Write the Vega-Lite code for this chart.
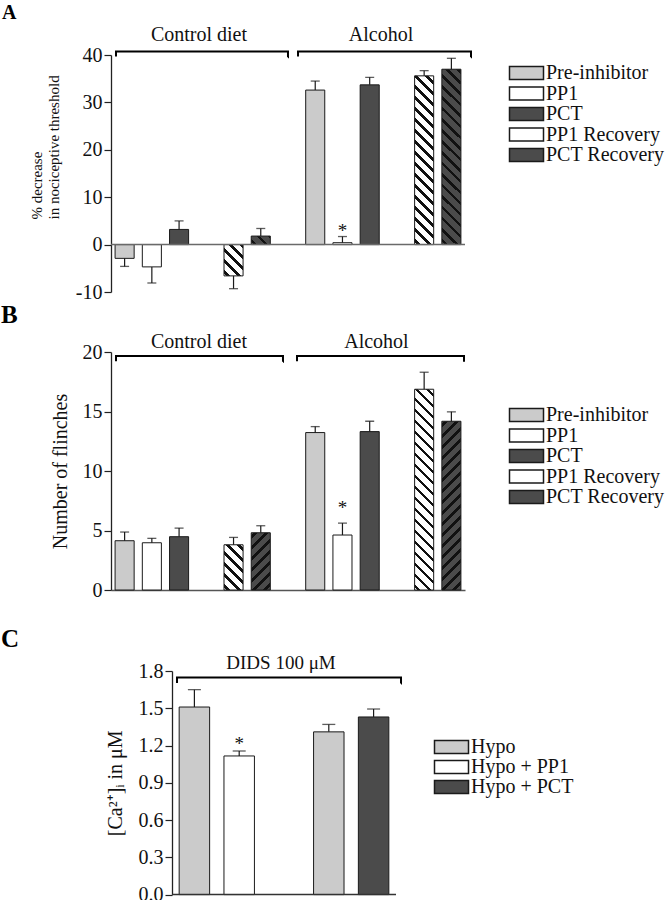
{
  "$schema": "https://vega.github.io/schema/vega-lite/v6.json",
  "padding": {"left": 1, "top": 2, "right": 0, "bottom": 0},
  "config": {
    "font": "Liberation Serif",
    "view": {"stroke": null},
    "axis": {"labelFont": "Liberation Serif", "titleFont": "Liberation Serif", "labelFontSize": 20, "labelColor": "#111", "titleColor": "#111", "titleFontWeight": "normal", "domainColor": "#222", "domainWidth": 1.3, "tickColor": "#222", "tickWidth": 1.2, "tickSize": 7, "labelPadding": 2, "labelOverlap": false, "grid": false},
    "axisY": {"labelOverlap": false},
    "legend": {"labelFont": "Liberation Serif", "labelFontSize": 20, "labelColor": "#111"},
    "title": {"font": "Liberation Serif"}
  },
  "spacing": 27,
  "resolve": {"scale": {"fill": "independent", "xOffset": "independent", "x": "independent", "y": "independent"}},
  "vconcat": [
    {
      "spacing": 0,
      "resolve": {"scale": {"fill": "independent", "xOffset": "independent", "x": "independent", "y": "independent"}},
      "vconcat": [
        {
          "title": {"text": "A", "anchor": "start", "frame": "group", "dx": -109, "fontSize": 20, "fontWeight": "bold", "color": "#000", "offset": 2},
          "width": 354,
          "height": 237,
          "layer": [
            {
              "data": {"values": [
                {"group": "Control diet", "treatment": "Pre-inhibitor", "value": -2.9, "error_end": -4.6},
                {"group": "Control diet", "treatment": "PP1", "value": -4.7, "error_end": -8.1},
                {"group": "Control diet", "treatment": "PCT", "value": 3.2, "error_end": 5.0},
                {"group": "Control diet", "treatment": "PP1 Recovery", "value": -6.6, "error_end": -9.3},
                {"group": "Control diet", "treatment": "PCT Recovery", "value": 1.8, "error_end": 3.4},
                {"group": "Alcohol", "treatment": "Pre-inhibitor", "value": 32.6, "error_end": 34.5},
                {"group": "Alcohol", "treatment": "PP1", "value": 0.4, "error_end": 1.7, "sig": "*"},
                {"group": "Alcohol", "treatment": "PCT", "value": 33.7, "error_end": 35.3},
                {"group": "Alcohol", "treatment": "PP1 Recovery", "value": 35.6, "error_end": 36.7},
                {"group": "Alcohol", "treatment": "PCT Recovery", "value": 37.0, "error_end": 39.3}
              ]},
              "layer": [
                {
                  "mark": {"type": "bar", "stroke": "#1a1a1a", "strokeWidth": 1},
                  "encoding": {
                    "x": {"field": "group", "type": "nominal", "scale": {"domain": ["Control diet", "Alcohol"], "paddingInner": 0.142857, "paddingOuter": 0}, "axis": null},
                    "xOffset": {"field": "treatment", "type": "nominal", "scale": {"domain": ["Pre-inhibitor", "PP1", "PCT", "gap", "PP1 Recovery", "PCT Recovery"], "paddingInner": 0.3, "paddingOuter": 0.15}},
                    "y": {"field": "value", "type": "quantitative", "scale": {"domain": [-10, 40], "nice": false, "zero": false},
                      "axis": {"values": [-10, 0, 10, 20, 30, 40], "labelExpr": "datum.value + ''", "title": ["% decrease", "in nociceptive threshold"], "titleFontSize": 15, "titleLineHeight": 17, "titleAlign": "left", "titleY": 164, "titlePadding": 14}},
                    "fill": {
                      "field": "treatment", "type": "nominal",
                      "scale": {"domain": ["Pre-inhibitor", "PP1", "PCT", "PP1 Recovery", "PCT Recovery"], "range": ["#cbcbcb", "#ffffff", "#4b4b4b", "#ffffff", "#4b4b4b"]},
                      "legend": {
                        "title": null, "orient": "none", "legendX": 397, "legendY": 8, "padding": 0,
                        "symbolType": "M-1,-0.76H3V0.76H-1Z", "symbolSize": 289, "labelOffset": 18, "rowPadding": 0.5,
                        "encode": {"symbols": {
                          "stroke": {"value": "#1a1a1a"}, "strokeWidth": {"value": 1},
                          "fill": {"condition": [
                            {"test": "datum.label === 'Pre-inhibitor'", "value": "#cbcbcb"},
                            {"test": "datum.label === 'PCT'", "value": "#4b4b4b"},
                            {"test": "datum.label === 'PP1 Recovery'", "value": {"gradient": "linear", "x1": 0, "y1": 1, "x2": 1.4136, "y2": 0.4629, "stops": [
                              {"offset": 0.05, "color": "#fff"}, {"offset": 0.05, "color": "#111"}, {"offset": 0.11, "color": "#111"}, {"offset": 0.11, "color": "#fff"},
                              {"offset": 0.25, "color": "#fff"}, {"offset": 0.25, "color": "#111"}, {"offset": 0.31, "color": "#111"}, {"offset": 0.31, "color": "#fff"},
                              {"offset": 0.45, "color": "#fff"}, {"offset": 0.45, "color": "#111"}, {"offset": 0.51, "color": "#111"}, {"offset": 0.51, "color": "#fff"},
                              {"offset": 0.65, "color": "#fff"}, {"offset": 0.65, "color": "#111"}, {"offset": 0.71, "color": "#111"}, {"offset": 0.71, "color": "#fff"},
                              {"offset": 0.85, "color": "#fff"}, {"offset": 0.85, "color": "#111"}, {"offset": 0.91, "color": "#111"}, {"offset": 0.91, "color": "#fff"}]}},
                            {"test": "datum.label === 'PCT Recovery'", "value": {"gradient": "linear", "x1": 0, "y1": 1, "x2": 1.4136, "y2": 0.4629, "stops": [
                              {"offset": 0.05, "color": "#4b4b4b"}, {"offset": 0.05, "color": "#111"}, {"offset": 0.11, "color": "#111"}, {"offset": 0.11, "color": "#4b4b4b"},
                              {"offset": 0.25, "color": "#4b4b4b"}, {"offset": 0.25, "color": "#111"}, {"offset": 0.31, "color": "#111"}, {"offset": 0.31, "color": "#4b4b4b"},
                              {"offset": 0.45, "color": "#4b4b4b"}, {"offset": 0.45, "color": "#111"}, {"offset": 0.51, "color": "#111"}, {"offset": 0.51, "color": "#4b4b4b"},
                              {"offset": 0.65, "color": "#4b4b4b"}, {"offset": 0.65, "color": "#111"}, {"offset": 0.71, "color": "#111"}, {"offset": 0.71, "color": "#4b4b4b"},
                              {"offset": 0.85, "color": "#4b4b4b"}, {"offset": 0.85, "color": "#111"}, {"offset": 0.91, "color": "#111"}, {"offset": 0.91, "color": "#4b4b4b"}]}}
                          ], "value": "#ffffff"}
                        }}
                      },
                      "condition": [
                        {"test": "datum.group === 'Control diet' && datum.treatment === 'PP1 Recovery'", "value": {"gradient": "linear", "x1": 0, "y1": 1, "x2": 0.7813, "y2": -0.2823, "stops": [
                          {"offset": 0.05, "color": "#fff"}, {"offset": 0.05, "color": "#111"}, {"offset": 0.11, "color": "#111"}, {"offset": 0.11, "color": "#fff"},
                          {"offset": 0.25, "color": "#fff"}, {"offset": 0.25, "color": "#111"}, {"offset": 0.31, "color": "#111"}, {"offset": 0.31, "color": "#fff"},
                          {"offset": 0.45, "color": "#fff"}, {"offset": 0.45, "color": "#111"}, {"offset": 0.51, "color": "#111"}, {"offset": 0.51, "color": "#fff"},
                          {"offset": 0.65, "color": "#fff"}, {"offset": 0.65, "color": "#111"}, {"offset": 0.71, "color": "#111"}, {"offset": 0.71, "color": "#fff"},
                          {"offset": 0.85, "color": "#fff"}, {"offset": 0.85, "color": "#111"}, {"offset": 0.91, "color": "#111"}, {"offset": 0.91, "color": "#fff"}]}},
                        {"test": "datum.group === 'Control diet' && datum.treatment === 'PCT Recovery'", "value": {"gradient": "linear", "x1": 0, "y1": 1, "x2": 1.4423, "y2": 0.3545, "stops": [
                          {"offset": 0.0833, "color": "#4b4b4b"}, {"offset": 0.0833, "color": "#111"}, {"offset": 0.1833, "color": "#111"}, {"offset": 0.1833, "color": "#4b4b4b"},
                          {"offset": 0.4167, "color": "#4b4b4b"}, {"offset": 0.4167, "color": "#111"}, {"offset": 0.5167, "color": "#111"}, {"offset": 0.5167, "color": "#4b4b4b"},
                          {"offset": 0.75, "color": "#4b4b4b"}, {"offset": 0.75, "color": "#111"}, {"offset": 0.85, "color": "#111"}, {"offset": 0.85, "color": "#4b4b4b"}]}},
                        {"test": "datum.group === 'Alcohol' && datum.treatment === 'PP1 Recovery'", "value": {"gradient": "linear", "x1": 0, "y1": 1, "x2": 0.1309, "y2": -0.1589, "stops": [
                          {"offset": 0.0139, "color": "#fff"}, {"offset": 0.0139, "color": "#111"}, {"offset": 0.0306, "color": "#111"}, {"offset": 0.0306, "color": "#fff"},
                          {"offset": 0.0694, "color": "#fff"}, {"offset": 0.0694, "color": "#111"}, {"offset": 0.0861, "color": "#111"}, {"offset": 0.0861, "color": "#fff"},
                          {"offset": 0.125, "color": "#fff"}, {"offset": 0.125, "color": "#111"}, {"offset": 0.1417, "color": "#111"}, {"offset": 0.1417, "color": "#fff"},
                          {"offset": 0.1806, "color": "#fff"}, {"offset": 0.1806, "color": "#111"}, {"offset": 0.1972, "color": "#111"}, {"offset": 0.1972, "color": "#fff"},
                          {"offset": 0.2361, "color": "#fff"}, {"offset": 0.2361, "color": "#111"}, {"offset": 0.2528, "color": "#111"}, {"offset": 0.2528, "color": "#fff"},
                          {"offset": 0.2917, "color": "#fff"}, {"offset": 0.2917, "color": "#111"}, {"offset": 0.3083, "color": "#111"}, {"offset": 0.3083, "color": "#fff"},
                          {"offset": 0.3472, "color": "#fff"}, {"offset": 0.3472, "color": "#111"}, {"offset": 0.3639, "color": "#111"}, {"offset": 0.3639, "color": "#fff"},
                          {"offset": 0.4028, "color": "#fff"}, {"offset": 0.4028, "color": "#111"}, {"offset": 0.4194, "color": "#111"}, {"offset": 0.4194, "color": "#fff"},
                          {"offset": 0.4583, "color": "#fff"}, {"offset": 0.4583, "color": "#111"}, {"offset": 0.475, "color": "#111"}, {"offset": 0.475, "color": "#fff"},
                          {"offset": 0.5139, "color": "#fff"}, {"offset": 0.5139, "color": "#111"}, {"offset": 0.5306, "color": "#111"}, {"offset": 0.5306, "color": "#fff"},
                          {"offset": 0.5694, "color": "#fff"}, {"offset": 0.5694, "color": "#111"}, {"offset": 0.5861, "color": "#111"}, {"offset": 0.5861, "color": "#fff"},
                          {"offset": 0.625, "color": "#fff"}, {"offset": 0.625, "color": "#111"}, {"offset": 0.6417, "color": "#111"}, {"offset": 0.6417, "color": "#fff"},
                          {"offset": 0.6806, "color": "#fff"}, {"offset": 0.6806, "color": "#111"}, {"offset": 0.6972, "color": "#111"}, {"offset": 0.6972, "color": "#fff"},
                          {"offset": 0.7361, "color": "#fff"}, {"offset": 0.7361, "color": "#111"}, {"offset": 0.7528, "color": "#111"}, {"offset": 0.7528, "color": "#fff"},
                          {"offset": 0.7917, "color": "#fff"}, {"offset": 0.7917, "color": "#111"}, {"offset": 0.8083, "color": "#111"}, {"offset": 0.8083, "color": "#fff"},
                          {"offset": 0.8472, "color": "#fff"}, {"offset": 0.8472, "color": "#111"}, {"offset": 0.8639, "color": "#111"}, {"offset": 0.8639, "color": "#fff"},
                          {"offset": 0.9028, "color": "#fff"}, {"offset": 0.9028, "color": "#111"}, {"offset": 0.9194, "color": "#111"}, {"offset": 0.9194, "color": "#fff"},
                          {"offset": 0.9583, "color": "#fff"}, {"offset": 0.9583, "color": "#111"}, {"offset": 0.975, "color": "#111"}, {"offset": 0.975, "color": "#fff"}]}},
                        {"test": "datum.group === 'Alcohol' && datum.treatment === 'PCT Recovery'", "value": {"gradient": "linear", "x1": 0, "y1": 1, "x2": 0.1212, "y2": -0.1157, "stops": [
                          {"offset": 0.0139, "color": "#4b4b4b"}, {"offset": 0.0139, "color": "#111"}, {"offset": 0.0306, "color": "#111"}, {"offset": 0.0306, "color": "#4b4b4b"},
                          {"offset": 0.0694, "color": "#4b4b4b"}, {"offset": 0.0694, "color": "#111"}, {"offset": 0.0861, "color": "#111"}, {"offset": 0.0861, "color": "#4b4b4b"},
                          {"offset": 0.125, "color": "#4b4b4b"}, {"offset": 0.125, "color": "#111"}, {"offset": 0.1417, "color": "#111"}, {"offset": 0.1417, "color": "#4b4b4b"},
                          {"offset": 0.1806, "color": "#4b4b4b"}, {"offset": 0.1806, "color": "#111"}, {"offset": 0.1972, "color": "#111"}, {"offset": 0.1972, "color": "#4b4b4b"},
                          {"offset": 0.2361, "color": "#4b4b4b"}, {"offset": 0.2361, "color": "#111"}, {"offset": 0.2528, "color": "#111"}, {"offset": 0.2528, "color": "#4b4b4b"},
                          {"offset": 0.2917, "color": "#4b4b4b"}, {"offset": 0.2917, "color": "#111"}, {"offset": 0.3083, "color": "#111"}, {"offset": 0.3083, "color": "#4b4b4b"},
                          {"offset": 0.3472, "color": "#4b4b4b"}, {"offset": 0.3472, "color": "#111"}, {"offset": 0.3639, "color": "#111"}, {"offset": 0.3639, "color": "#4b4b4b"},
                          {"offset": 0.4028, "color": "#4b4b4b"}, {"offset": 0.4028, "color": "#111"}, {"offset": 0.4194, "color": "#111"}, {"offset": 0.4194, "color": "#4b4b4b"},
                          {"offset": 0.4583, "color": "#4b4b4b"}, {"offset": 0.4583, "color": "#111"}, {"offset": 0.475, "color": "#111"}, {"offset": 0.475, "color": "#4b4b4b"},
                          {"offset": 0.5139, "color": "#4b4b4b"}, {"offset": 0.5139, "color": "#111"}, {"offset": 0.5306, "color": "#111"}, {"offset": 0.5306, "color": "#4b4b4b"},
                          {"offset": 0.5694, "color": "#4b4b4b"}, {"offset": 0.5694, "color": "#111"}, {"offset": 0.5861, "color": "#111"}, {"offset": 0.5861, "color": "#4b4b4b"},
                          {"offset": 0.625, "color": "#4b4b4b"}, {"offset": 0.625, "color": "#111"}, {"offset": 0.6417, "color": "#111"}, {"offset": 0.6417, "color": "#4b4b4b"},
                          {"offset": 0.6806, "color": "#4b4b4b"}, {"offset": 0.6806, "color": "#111"}, {"offset": 0.6972, "color": "#111"}, {"offset": 0.6972, "color": "#4b4b4b"},
                          {"offset": 0.7361, "color": "#4b4b4b"}, {"offset": 0.7361, "color": "#111"}, {"offset": 0.7528, "color": "#111"}, {"offset": 0.7528, "color": "#4b4b4b"},
                          {"offset": 0.7917, "color": "#4b4b4b"}, {"offset": 0.7917, "color": "#111"}, {"offset": 0.8083, "color": "#111"}, {"offset": 0.8083, "color": "#4b4b4b"},
                          {"offset": 0.8472, "color": "#4b4b4b"}, {"offset": 0.8472, "color": "#111"}, {"offset": 0.8639, "color": "#111"}, {"offset": 0.8639, "color": "#4b4b4b"},
                          {"offset": 0.9028, "color": "#4b4b4b"}, {"offset": 0.9028, "color": "#111"}, {"offset": 0.9194, "color": "#111"}, {"offset": 0.9194, "color": "#4b4b4b"},
                          {"offset": 0.9583, "color": "#4b4b4b"}, {"offset": 0.9583, "color": "#111"}, {"offset": 0.975, "color": "#111"}, {"offset": 0.975, "color": "#4b4b4b"}]}}
                      ]
                    }
                  }
                },
                {
                  "mark": {"type": "rule", "color": "#1a1a1a", "strokeWidth": 1.2},
                  "encoding": {
                    "x": {"field": "group", "type": "nominal", "scale": {"domain": ["Control diet", "Alcohol"], "paddingInner": 0.142857, "paddingOuter": 0}, "axis": null},
                    "xOffset": {"field": "treatment", "type": "nominal", "scale": {"domain": ["Pre-inhibitor", "PP1", "PCT", "gap", "PP1 Recovery", "PCT Recovery"], "paddingInner": 0.3, "paddingOuter": 0.15}},
                    "y": {"field": "value", "type": "quantitative", "scale": {"domain": [-10, 40], "nice": false, "zero": false}},
                    "y2": {"field": "error_end"}
                  }
                },
                {
                  "mark": {"type": "tick", "color": "#1a1a1a", "thickness": 1.3, "size": 9},
                  "encoding": {
                    "x": {"field": "group", "type": "nominal", "scale": {"domain": ["Control diet", "Alcohol"], "paddingInner": 0.142857, "paddingOuter": 0}, "axis": null},
                    "xOffset": {"field": "treatment", "type": "nominal", "scale": {"domain": ["Pre-inhibitor", "PP1", "PCT", "gap", "PP1 Recovery", "PCT Recovery"], "paddingInner": 0.3, "paddingOuter": 0.15}},
                    "y": {"field": "error_end", "type": "quantitative", "scale": {"domain": [-10, 40], "nice": false, "zero": false}}
                  }
                },
                {
                  "transform": [{"filter": "datum.sig"}],
                  "mark": {"type": "text", "fontSize": 19, "baseline": "alphabetic", "dy": 0, "color": "#111"},
                  "encoding": {
                    "x": {"field": "group", "type": "nominal", "scale": {"domain": ["Control diet", "Alcohol"], "paddingInner": 0.142857, "paddingOuter": 0}, "axis": null},
                    "xOffset": {"field": "treatment", "type": "nominal", "scale": {"domain": ["Pre-inhibitor", "PP1", "PCT", "gap", "PP1 Recovery", "PCT Recovery"], "paddingInner": 0.3, "paddingOuter": 0.15}},
                    "y": {"field": "error_end", "type": "quantitative", "scale": {"domain": [-10, 40], "nice": false, "zero": false}},
                    "text": {"field": "sig"}
                  }
                }
              ]
            },
            {
              "data": {"values": [{}]},
              "mark": {"type": "rule", "color": "#6a6a6a", "strokeWidth": 1.5},
              "encoding": {"y": {"datum": 0, "type": "quantitative", "scale": {"domain": [-10, 40], "nice": false, "zero": false}}}
            },
            {
              "data": {"values": [{"group": "Control diet"}]},
              "layer": [
                {
                  "mark": {"type": "rect", "filled": false, "stroke": "#000", "strokeWidth": 2, "strokeDash": [177.7, 172.5, 10]},
                  "encoding": {
                    "x": {"field": "group", "type": "nominal", "bandPosition": 0.0306, "scale": {"domain": ["Control diet", "Alcohol"], "paddingInner": 0.142857, "paddingOuter": 0}, "axis": null},
                    "x2": {"field": "group", "bandPosition": 1.0832},
                    "y": {"datum": 40.75, "type": "quantitative", "scale": {"domain": [-10, 40], "nice": false, "zero": false}},
                    "y2": {"datum": 39.55}
                  }
                },
                {
                  "mark": {"type": "text", "fontSize": 20, "baseline": "middle", "color": "#111"},
                  "encoding": {
                    "x": {"field": "group", "type": "nominal", "bandPosition": 0.5386, "scale": {"domain": ["Control diet", "Alcohol"], "paddingInner": 0.142857, "paddingOuter": 0}, "axis": null},
                    "y": {"datum": 44.3, "type": "quantitative", "scale": {"domain": [-10, 40], "nice": false, "zero": false}},
                    "text": {"field": "group"}
                  }
                }
              ]
            },
            {
              "data": {"values": [{"group": "Alcohol"}]},
              "layer": [
                {
                  "mark": {"type": "rect", "filled": false, "stroke": "#000", "strokeWidth": 2, "strokeDash": [178.7, 173.5, 10]},
                  "encoding": {
                    "x": {"field": "group", "type": "nominal", "bandPosition": -0.022, "scale": {"domain": ["Control diet", "Alcohol"], "paddingInner": 0.142857, "paddingOuter": 0}, "axis": null},
                    "x2": {"field": "group", "bandPosition": 1.0367},
                    "y": {"datum": 40.75, "type": "quantitative", "scale": {"domain": [-10, 40], "nice": false, "zero": false}},
                    "y2": {"datum": 39.55}
                  }
                },
                {
                  "mark": {"type": "text", "fontSize": 20, "baseline": "middle", "color": "#111"},
                  "encoding": {
                    "x": {"field": "group", "type": "nominal", "bandPosition": 0.486, "scale": {"domain": ["Control diet", "Alcohol"], "paddingInner": 0.142857, "paddingOuter": 0}, "axis": null},
                    "y": {"datum": 44.3, "type": "quantitative", "scale": {"domain": [-10, 40], "nice": false, "zero": false}},
                    "text": {"field": "group"}
                  }
                }
              ]
            }
          ]
        },
        {
          "title": {"text": "B", "anchor": "start", "frame": "group", "dx": -110, "fontSize": 25, "fontWeight": "bold", "color": "#000", "offset": 4},
          "width": 354,
          "height": 238,
          "layer": [
            {
              "data": {"values": [
                {"group": "Control diet", "treatment": "Pre-inhibitor", "value": 4.14, "error_end": 4.87},
                {"group": "Control diet", "treatment": "PP1", "value": 3.97, "error_end": 4.34},
                {"group": "Control diet", "treatment": "PCT", "value": 4.48, "error_end": 5.2},
                {"group": "Control diet", "treatment": "PP1 Recovery", "value": 3.8, "error_end": 4.42},
                {"group": "Control diet", "treatment": "PCT Recovery", "value": 4.81, "error_end": 5.4},
                {"group": "Alcohol", "treatment": "Pre-inhibitor", "value": 13.23, "error_end": 13.73},
                {"group": "Alcohol", "treatment": "PP1", "value": 4.62, "error_end": 5.62, "sig": "*"},
                {"group": "Alcohol", "treatment": "PCT", "value": 13.31, "error_end": 14.18},
                {"group": "Alcohol", "treatment": "PP1 Recovery", "value": 16.87, "error_end": 18.3},
                {"group": "Alcohol", "treatment": "PCT Recovery", "value": 14.18, "error_end": 14.97}
              ]},
              "layer": [
                {
                  "mark": {"type": "bar", "stroke": "#1a1a1a", "strokeWidth": 1},
                  "encoding": {
                    "x": {"field": "group", "type": "nominal", "scale": {"domain": ["Control diet", "Alcohol"], "paddingInner": 0.142857, "paddingOuter": 0}, "axis": {"labels": false, "ticks": false, "title": null, "domainColor": "#555", "domainWidth": 1.5}},
                    "xOffset": {"field": "treatment", "type": "nominal", "scale": {"domain": ["Pre-inhibitor", "PP1", "PCT", "gap", "PP1 Recovery", "PCT Recovery"], "paddingInner": 0.3, "paddingOuter": 0.15}},
                    "y": {"field": "value", "type": "quantitative", "scale": {"domain": [0, 20], "nice": false},
                      "axis": {"values": [0, 5, 10, 15, 20], "title": "Number of flinches", "titleFontSize": 20, "titlePadding": 12}},
                    "fill": {
                      "field": "treatment", "type": "nominal",
                      "scale": {"domain": ["Pre-inhibitor", "PP1", "PCT", "PP1 Recovery", "PCT Recovery"], "range": ["#cbcbcb", "#ffffff", "#4b4b4b", "#ffffff", "#4b4b4b"]},
                      "legend": {
                        "title": null, "orient": "none", "legendX": 397, "legendY": 53, "padding": 0,
                        "symbolType": "M-1,-0.76H3V0.76H-1Z", "symbolSize": 289, "labelOffset": 18, "rowPadding": 0.5,
                        "encode": {"symbols": {
                          "stroke": {"value": "#1a1a1a"}, "strokeWidth": {"value": 1},
                          "fill": {"condition": [
                            {"test": "datum.label === 'Pre-inhibitor'", "value": "#cbcbcb"},
                            {"test": "datum.label === 'PCT'", "value": "#4b4b4b"},
                            {"test": "datum.label === 'PP1 Recovery'", "value": {"gradient": "linear", "x1": 0, "y1": 1, "x2": 1.4136, "y2": 0.4629, "stops": [
                              {"offset": 0.05, "color": "#fff"}, {"offset": 0.05, "color": "#111"}, {"offset": 0.11, "color": "#111"}, {"offset": 0.11, "color": "#fff"},
                              {"offset": 0.25, "color": "#fff"}, {"offset": 0.25, "color": "#111"}, {"offset": 0.31, "color": "#111"}, {"offset": 0.31, "color": "#fff"},
                              {"offset": 0.45, "color": "#fff"}, {"offset": 0.45, "color": "#111"}, {"offset": 0.51, "color": "#111"}, {"offset": 0.51, "color": "#fff"},
                              {"offset": 0.65, "color": "#fff"}, {"offset": 0.65, "color": "#111"}, {"offset": 0.71, "color": "#111"}, {"offset": 0.71, "color": "#fff"},
                              {"offset": 0.85, "color": "#fff"}, {"offset": 0.85, "color": "#111"}, {"offset": 0.91, "color": "#111"}, {"offset": 0.91, "color": "#fff"}]}},
                            {"test": "datum.label === 'PCT Recovery'", "value": {"gradient": "linear", "x1": 0, "y1": 0, "x2": 1.4136, "y2": 0.5371, "stops": [
                              {"offset": 0.05, "color": "#4b4b4b"}, {"offset": 0.05, "color": "#111"}, {"offset": 0.11, "color": "#111"}, {"offset": 0.11, "color": "#4b4b4b"},
                              {"offset": 0.25, "color": "#4b4b4b"}, {"offset": 0.25, "color": "#111"}, {"offset": 0.31, "color": "#111"}, {"offset": 0.31, "color": "#4b4b4b"},
                              {"offset": 0.45, "color": "#4b4b4b"}, {"offset": 0.45, "color": "#111"}, {"offset": 0.51, "color": "#111"}, {"offset": 0.51, "color": "#4b4b4b"},
                              {"offset": 0.65, "color": "#4b4b4b"}, {"offset": 0.65, "color": "#111"}, {"offset": 0.71, "color": "#111"}, {"offset": 0.71, "color": "#4b4b4b"},
                              {"offset": 0.85, "color": "#4b4b4b"}, {"offset": 0.85, "color": "#111"}, {"offset": 0.91, "color": "#111"}, {"offset": 0.91, "color": "#4b4b4b"}]}}
                          ], "value": "#ffffff"}
                        }}
                      },
                      "condition": [
                        {"test": "datum.group === 'Control diet' && datum.treatment === 'PP1 Recovery'", "value": {"gradient": "linear", "x1": 0, "y1": 1, "x2": 0.5224, "y2": -0.2394, "stops": [
                          {"offset": 0.0417, "color": "#fff"}, {"offset": 0.0417, "color": "#111"}, {"offset": 0.0917, "color": "#111"}, {"offset": 0.0917, "color": "#fff"},
                          {"offset": 0.2083, "color": "#fff"}, {"offset": 0.2083, "color": "#111"}, {"offset": 0.2583, "color": "#111"}, {"offset": 0.2583, "color": "#fff"},
                          {"offset": 0.375, "color": "#fff"}, {"offset": 0.375, "color": "#111"}, {"offset": 0.425, "color": "#111"}, {"offset": 0.425, "color": "#fff"},
                          {"offset": 0.5417, "color": "#fff"}, {"offset": 0.5417, "color": "#111"}, {"offset": 0.5917, "color": "#111"}, {"offset": 0.5917, "color": "#fff"},
                          {"offset": 0.7083, "color": "#fff"}, {"offset": 0.7083, "color": "#111"}, {"offset": 0.7583, "color": "#111"}, {"offset": 0.7583, "color": "#fff"},
                          {"offset": 0.875, "color": "#fff"}, {"offset": 0.875, "color": "#111"}, {"offset": 0.925, "color": "#111"}, {"offset": 0.925, "color": "#fff"}]}},
                        {"test": "datum.group === 'Control diet' && datum.treatment === 'PCT Recovery'", "value": {"gradient": "linear", "x1": 0, "y1": 0, "x2": 0.4032, "y2": 1.211, "stops": [
                          {"offset": 0.0357, "color": "#4b4b4b"}, {"offset": 0.0357, "color": "#111"}, {"offset": 0.0786, "color": "#111"}, {"offset": 0.0786, "color": "#4b4b4b"},
                          {"offset": 0.1786, "color": "#4b4b4b"}, {"offset": 0.1786, "color": "#111"}, {"offset": 0.2214, "color": "#111"}, {"offset": 0.2214, "color": "#4b4b4b"},
                          {"offset": 0.3214, "color": "#4b4b4b"}, {"offset": 0.3214, "color": "#111"}, {"offset": 0.3643, "color": "#111"}, {"offset": 0.3643, "color": "#4b4b4b"},
                          {"offset": 0.4643, "color": "#4b4b4b"}, {"offset": 0.4643, "color": "#111"}, {"offset": 0.5071, "color": "#111"}, {"offset": 0.5071, "color": "#4b4b4b"},
                          {"offset": 0.6071, "color": "#4b4b4b"}, {"offset": 0.6071, "color": "#111"}, {"offset": 0.65, "color": "#111"}, {"offset": 0.65, "color": "#4b4b4b"},
                          {"offset": 0.75, "color": "#4b4b4b"}, {"offset": 0.75, "color": "#111"}, {"offset": 0.7929, "color": "#111"}, {"offset": 0.7929, "color": "#4b4b4b"},
                          {"offset": 0.8929, "color": "#4b4b4b"}, {"offset": 0.8929, "color": "#111"}, {"offset": 0.9357, "color": "#111"}, {"offset": 0.9357, "color": "#4b4b4b"}]}},
                        {"test": "datum.group === 'Alcohol' && datum.treatment === 'PP1 Recovery'", "value": {"gradient": "linear", "x1": 0, "y1": 1, "x2": 0.1031, "y2": -0.0861, "stops": [
                          {"offset": 0.0125, "color": "#fff"}, {"offset": 0.0125, "color": "#111"}, {"offset": 0.0275, "color": "#111"}, {"offset": 0.0275, "color": "#fff"},
                          {"offset": 0.0625, "color": "#fff"}, {"offset": 0.0625, "color": "#111"}, {"offset": 0.0775, "color": "#111"}, {"offset": 0.0775, "color": "#fff"},
                          {"offset": 0.1125, "color": "#fff"}, {"offset": 0.1125, "color": "#111"}, {"offset": 0.1275, "color": "#111"}, {"offset": 0.1275, "color": "#fff"},
                          {"offset": 0.1625, "color": "#fff"}, {"offset": 0.1625, "color": "#111"}, {"offset": 0.1775, "color": "#111"}, {"offset": 0.1775, "color": "#fff"},
                          {"offset": 0.2125, "color": "#fff"}, {"offset": 0.2125, "color": "#111"}, {"offset": 0.2275, "color": "#111"}, {"offset": 0.2275, "color": "#fff"},
                          {"offset": 0.2625, "color": "#fff"}, {"offset": 0.2625, "color": "#111"}, {"offset": 0.2775, "color": "#111"}, {"offset": 0.2775, "color": "#fff"},
                          {"offset": 0.3125, "color": "#fff"}, {"offset": 0.3125, "color": "#111"}, {"offset": 0.3275, "color": "#111"}, {"offset": 0.3275, "color": "#fff"},
                          {"offset": 0.3625, "color": "#fff"}, {"offset": 0.3625, "color": "#111"}, {"offset": 0.3775, "color": "#111"}, {"offset": 0.3775, "color": "#fff"},
                          {"offset": 0.4125, "color": "#fff"}, {"offset": 0.4125, "color": "#111"}, {"offset": 0.4275, "color": "#111"}, {"offset": 0.4275, "color": "#fff"},
                          {"offset": 0.4625, "color": "#fff"}, {"offset": 0.4625, "color": "#111"}, {"offset": 0.4775, "color": "#111"}, {"offset": 0.4775, "color": "#fff"},
                          {"offset": 0.5125, "color": "#fff"}, {"offset": 0.5125, "color": "#111"}, {"offset": 0.5275, "color": "#111"}, {"offset": 0.5275, "color": "#fff"},
                          {"offset": 0.5625, "color": "#fff"}, {"offset": 0.5625, "color": "#111"}, {"offset": 0.5775, "color": "#111"}, {"offset": 0.5775, "color": "#fff"},
                          {"offset": 0.6125, "color": "#fff"}, {"offset": 0.6125, "color": "#111"}, {"offset": 0.6275, "color": "#111"}, {"offset": 0.6275, "color": "#fff"},
                          {"offset": 0.6625, "color": "#fff"}, {"offset": 0.6625, "color": "#111"}, {"offset": 0.6775, "color": "#111"}, {"offset": 0.6775, "color": "#fff"},
                          {"offset": 0.7125, "color": "#fff"}, {"offset": 0.7125, "color": "#111"}, {"offset": 0.7275, "color": "#111"}, {"offset": 0.7275, "color": "#fff"},
                          {"offset": 0.7625, "color": "#fff"}, {"offset": 0.7625, "color": "#111"}, {"offset": 0.7775, "color": "#111"}, {"offset": 0.7775, "color": "#fff"},
                          {"offset": 0.8125, "color": "#fff"}, {"offset": 0.8125, "color": "#111"}, {"offset": 0.8275, "color": "#111"}, {"offset": 0.8275, "color": "#fff"},
                          {"offset": 0.8625, "color": "#fff"}, {"offset": 0.8625, "color": "#111"}, {"offset": 0.8775, "color": "#111"}, {"offset": 0.8775, "color": "#fff"},
                          {"offset": 0.9125, "color": "#fff"}, {"offset": 0.9125, "color": "#111"}, {"offset": 0.9275, "color": "#111"}, {"offset": 0.9275, "color": "#fff"},
                          {"offset": 0.9625, "color": "#fff"}, {"offset": 0.9625, "color": "#111"}, {"offset": 0.9775, "color": "#111"}, {"offset": 0.9775, "color": "#fff"}]}},
                        {"test": "datum.group === 'Alcohol' && datum.treatment === 'PCT Recovery'", "value": {"gradient": "linear", "x1": 0, "y1": 0, "x2": 0.1309, "y2": 1.1586, "stops": [
                          {"offset": 0.0139, "color": "#4b4b4b"}, {"offset": 0.0139, "color": "#111"}, {"offset": 0.0306, "color": "#111"}, {"offset": 0.0306, "color": "#4b4b4b"},
                          {"offset": 0.0694, "color": "#4b4b4b"}, {"offset": 0.0694, "color": "#111"}, {"offset": 0.0861, "color": "#111"}, {"offset": 0.0861, "color": "#4b4b4b"},
                          {"offset": 0.125, "color": "#4b4b4b"}, {"offset": 0.125, "color": "#111"}, {"offset": 0.1417, "color": "#111"}, {"offset": 0.1417, "color": "#4b4b4b"},
                          {"offset": 0.1806, "color": "#4b4b4b"}, {"offset": 0.1806, "color": "#111"}, {"offset": 0.1972, "color": "#111"}, {"offset": 0.1972, "color": "#4b4b4b"},
                          {"offset": 0.2361, "color": "#4b4b4b"}, {"offset": 0.2361, "color": "#111"}, {"offset": 0.2528, "color": "#111"}, {"offset": 0.2528, "color": "#4b4b4b"},
                          {"offset": 0.2917, "color": "#4b4b4b"}, {"offset": 0.2917, "color": "#111"}, {"offset": 0.3083, "color": "#111"}, {"offset": 0.3083, "color": "#4b4b4b"},
                          {"offset": 0.3472, "color": "#4b4b4b"}, {"offset": 0.3472, "color": "#111"}, {"offset": 0.3639, "color": "#111"}, {"offset": 0.3639, "color": "#4b4b4b"},
                          {"offset": 0.4028, "color": "#4b4b4b"}, {"offset": 0.4028, "color": "#111"}, {"offset": 0.4194, "color": "#111"}, {"offset": 0.4194, "color": "#4b4b4b"},
                          {"offset": 0.4583, "color": "#4b4b4b"}, {"offset": 0.4583, "color": "#111"}, {"offset": 0.475, "color": "#111"}, {"offset": 0.475, "color": "#4b4b4b"},
                          {"offset": 0.5139, "color": "#4b4b4b"}, {"offset": 0.5139, "color": "#111"}, {"offset": 0.5306, "color": "#111"}, {"offset": 0.5306, "color": "#4b4b4b"},
                          {"offset": 0.5694, "color": "#4b4b4b"}, {"offset": 0.5694, "color": "#111"}, {"offset": 0.5861, "color": "#111"}, {"offset": 0.5861, "color": "#4b4b4b"},
                          {"offset": 0.625, "color": "#4b4b4b"}, {"offset": 0.625, "color": "#111"}, {"offset": 0.6417, "color": "#111"}, {"offset": 0.6417, "color": "#4b4b4b"},
                          {"offset": 0.6806, "color": "#4b4b4b"}, {"offset": 0.6806, "color": "#111"}, {"offset": 0.6972, "color": "#111"}, {"offset": 0.6972, "color": "#4b4b4b"},
                          {"offset": 0.7361, "color": "#4b4b4b"}, {"offset": 0.7361, "color": "#111"}, {"offset": 0.7528, "color": "#111"}, {"offset": 0.7528, "color": "#4b4b4b"},
                          {"offset": 0.7917, "color": "#4b4b4b"}, {"offset": 0.7917, "color": "#111"}, {"offset": 0.8083, "color": "#111"}, {"offset": 0.8083, "color": "#4b4b4b"},
                          {"offset": 0.8472, "color": "#4b4b4b"}, {"offset": 0.8472, "color": "#111"}, {"offset": 0.8639, "color": "#111"}, {"offset": 0.8639, "color": "#4b4b4b"},
                          {"offset": 0.9028, "color": "#4b4b4b"}, {"offset": 0.9028, "color": "#111"}, {"offset": 0.9194, "color": "#111"}, {"offset": 0.9194, "color": "#4b4b4b"},
                          {"offset": 0.9583, "color": "#4b4b4b"}, {"offset": 0.9583, "color": "#111"}, {"offset": 0.975, "color": "#111"}, {"offset": 0.975, "color": "#4b4b4b"}]}}
                      ]
                    }
                  }
                },
                {
                  "mark": {"type": "rule", "color": "#1a1a1a", "strokeWidth": 1.2},
                  "encoding": {
                    "x": {"field": "group", "type": "nominal", "scale": {"domain": ["Control diet", "Alcohol"], "paddingInner": 0.142857, "paddingOuter": 0}},
                    "xOffset": {"field": "treatment", "type": "nominal", "scale": {"domain": ["Pre-inhibitor", "PP1", "PCT", "gap", "PP1 Recovery", "PCT Recovery"], "paddingInner": 0.3, "paddingOuter": 0.15}},
                    "y": {"field": "value", "type": "quantitative", "scale": {"domain": [0, 20], "nice": false}},
                    "y2": {"field": "error_end"}
                  }
                },
                {
                  "mark": {"type": "tick", "color": "#1a1a1a", "thickness": 1.3, "size": 9},
                  "encoding": {
                    "x": {"field": "group", "type": "nominal", "scale": {"domain": ["Control diet", "Alcohol"], "paddingInner": 0.142857, "paddingOuter": 0}},
                    "xOffset": {"field": "treatment", "type": "nominal", "scale": {"domain": ["Pre-inhibitor", "PP1", "PCT", "gap", "PP1 Recovery", "PCT Recovery"], "paddingInner": 0.3, "paddingOuter": 0.15}},
                    "y": {"field": "error_end", "type": "quantitative", "scale": {"domain": [0, 20], "nice": false}}
                  }
                },
                {
                  "transform": [{"filter": "datum.sig"}],
                  "mark": {"type": "text", "fontSize": 19, "baseline": "alphabetic", "dy": -9, "color": "#111"},
                  "encoding": {
                    "x": {"field": "group", "type": "nominal", "scale": {"domain": ["Control diet", "Alcohol"], "paddingInner": 0.142857, "paddingOuter": 0}},
                    "xOffset": {"field": "treatment", "type": "nominal", "scale": {"domain": ["Pre-inhibitor", "PP1", "PCT", "gap", "PP1 Recovery", "PCT Recovery"], "paddingInner": 0.3, "paddingOuter": 0.15}},
                    "y": {"field": "error_end", "type": "quantitative", "scale": {"domain": [0, 20], "nice": false}},
                    "text": {"field": "sig"}
                  }
                }
              ]
            },
            {
              "data": {"values": [{"group": "Control diet"}]},
              "layer": [
                {
                  "mark": {"type": "rect", "filled": false, "stroke": "#000", "strokeWidth": 2, "strokeDash": [172.7, 167.5, 10]},
                  "encoding": {
                    "x": {"field": "group", "type": "nominal", "bandPosition": 0.0306, "scale": {"domain": ["Control diet", "Alcohol"], "paddingInner": 0.142857, "paddingOuter": 0}},
                    "x2": {"field": "group", "bandPosition": 1.0526},
                    "y": {"datum": 19.66, "type": "quantitative", "scale": {"domain": [0, 20], "nice": false}},
                    "y2": {"datum": 19.18}
                  }
                },
                {
                  "mark": {"type": "text", "fontSize": 20, "baseline": "middle", "color": "#111"},
                  "encoding": {
                    "x": {"field": "group", "type": "nominal", "bandPosition": 0.5386, "scale": {"domain": ["Control diet", "Alcohol"], "paddingInner": 0.142857, "paddingOuter": 0}},
                    "y": {"datum": 20.86, "type": "quantitative", "scale": {"domain": [0, 20], "nice": false}},
                    "text": {"field": "group"}
                  }
                }
              ]
            },
            {
              "data": {"values": [{"group": "Alcohol"}]},
              "layer": [
                {
                  "mark": {"type": "rect", "filled": false, "stroke": "#000", "strokeWidth": 2, "strokeDash": [172.7, 167.5, 10]},
                  "encoding": {
                    "x": {"field": "group", "type": "nominal", "bandPosition": -0.0282, "scale": {"domain": ["Control diet", "Alcohol"], "paddingInner": 0.142857, "paddingOuter": 0}},
                    "x2": {"field": "group", "bandPosition": 0.9939},
                    "y": {"datum": 19.66, "type": "quantitative", "scale": {"domain": [0, 20], "nice": false}},
                    "y2": {"datum": 19.18}
                  }
                },
                {
                  "mark": {"type": "text", "fontSize": 20, "baseline": "middle", "color": "#111"},
                  "encoding": {
                    "x": {"field": "group", "type": "nominal", "bandPosition": 0.458, "scale": {"domain": ["Control diet", "Alcohol"], "paddingInner": 0.142857, "paddingOuter": 0}},
                    "y": {"datum": 20.86, "type": "quantitative", "scale": {"domain": [0, 20], "nice": false}},
                    "text": {"field": "group"}
                  }
                }
              ]
            }
          ]
        }
      ]
    },
    {
      "title": {"text": "C", "anchor": "start", "frame": "group", "dx": -110, "fontSize": 25, "fontWeight": "bold", "color": "#000", "offset": 2},
      "width": 285,
      "height": 223.6,
      "layer": [
        {
          "data": {"values": [
            {"experiment": "PP1", "inhibitor": "none", "treatment": "Hypo", "value": 1.51, "error_end": 1.65},
            {"experiment": "PP1", "inhibitor": "added", "treatment": "Hypo + PP1", "value": 1.116, "error_end": 1.156, "sig": "*"},
            {"experiment": "PCT", "inhibitor": "none", "treatment": "Hypo", "value": 1.31, "error_end": 1.37},
            {"experiment": "PCT", "inhibitor": "added", "treatment": "Hypo + PCT", "value": 1.43, "error_end": 1.494}
          ]},
          "layer": [
            {
              "mark": {"type": "bar", "stroke": "#1a1a1a", "strokeWidth": 1},
              "encoding": {
                "x": {"field": "experiment", "type": "nominal", "scale": {"domain": ["PP1", "PCT"], "paddingInner": 0.333333, "paddingOuter": 0.2269, "align": 1}, "axis": null},
                "xOffset": {"field": "inhibitor", "type": "nominal", "scale": {"domain": ["none", "added"], "paddingInner": 0.32, "paddingOuter": 0.16}},
                "y": {"field": "value", "type": "quantitative", "scale": {"domain": [0, 1.8], "nice": false},
                  "axis": {"values": [0, 0.3, 0.6, 0.9, 1.2, 1.5, 1.8], "format": ".1f", "labelOverlap": false, "labelSeparation": 0, "offset": -61, "title": "[Ca²⁺]ᵢ in μM", "titleFontSize": 20, "titlePadding": 13}},
                "fill": {
                  "field": "treatment", "type": "nominal",
                  "scale": {"domain": ["Hypo", "Hypo + PP1", "Hypo + PCT"], "range": ["#cbcbcb", "#ffffff", "#4b4b4b"]},
                  "legend": {
                    "title": null, "orient": "none", "legendX": 322, "legendY": 66, "padding": 0,
                    "symbolType": "M-1,-0.76H3V0.76H-1Z", "symbolSize": 289, "labelOffset": 18, "rowPadding": 0,
                    "encode": {"symbols": {"stroke": {"value": "#1a1a1a"}, "strokeWidth": {"value": 1}}}
                  }
                }
              }
            },
            {
              "mark": {"type": "rule", "color": "#1a1a1a", "strokeWidth": 1.2},
              "encoding": {
                "x": {"field": "experiment", "type": "nominal", "scale": {"domain": ["PP1", "PCT"], "paddingInner": 0.333333, "paddingOuter": 0.2269, "align": 1}, "axis": null},
                "xOffset": {"field": "inhibitor", "type": "nominal", "scale": {"domain": ["none", "added"], "paddingInner": 0.32, "paddingOuter": 0.16}},
                "y": {"field": "value", "type": "quantitative", "scale": {"domain": [0, 1.8], "nice": false},
                  "axis": {"values": [0, 0.3, 0.6, 0.9, 1.2, 1.5, 1.8], "format": ".1f", "labelOverlap": false, "labelSeparation": 0, "offset": -61, "title": "[Ca²⁺]ᵢ in μM", "titleFontSize": 20, "titlePadding": 13}},
                "y2": {"field": "error_end"}
              }
            },
            {
              "mark": {"type": "tick", "color": "#1a1a1a", "thickness": 1.3, "size": 13},
              "encoding": {
                "x": {"field": "experiment", "type": "nominal", "scale": {"domain": ["PP1", "PCT"], "paddingInner": 0.333333, "paddingOuter": 0.2269, "align": 1}, "axis": null},
                "xOffset": {"field": "inhibitor", "type": "nominal", "scale": {"domain": ["none", "added"], "paddingInner": 0.32, "paddingOuter": 0.16}},
                "y": {"field": "error_end", "type": "quantitative", "scale": {"domain": [0, 1.8], "nice": false},
                  "axis": {"values": [0, 0.3, 0.6, 0.9, 1.2, 1.5, 1.8], "format": ".1f", "labelOverlap": false, "labelSeparation": 0, "offset": -61, "title": "[Ca²⁺]ᵢ in μM", "titleFontSize": 20, "titlePadding": 13}}
              }
            },
            {
              "transform": [{"filter": "datum.sig"}],
              "mark": {"type": "text", "fontSize": 19, "baseline": "alphabetic", "dy": -1, "color": "#111"},
              "encoding": {
                "x": {"field": "experiment", "type": "nominal", "scale": {"domain": ["PP1", "PCT"], "paddingInner": 0.333333, "paddingOuter": 0.2269, "align": 1}, "axis": null},
                "xOffset": {"field": "inhibitor", "type": "nominal", "scale": {"domain": ["none", "added"], "paddingInner": 0.32, "paddingOuter": 0.16}},
                "y": {"field": "error_end", "type": "quantitative", "scale": {"domain": [0, 1.8], "nice": false},
                  "axis": {"values": [0, 0.3, 0.6, 0.9, 1.2, 1.5, 1.8], "format": ".1f", "labelOverlap": false, "labelSeparation": 0, "offset": -61, "title": "[Ca²⁺]ᵢ in μM", "titleFontSize": 20, "titlePadding": 13}},
                "text": {"field": "sig"}
              }
            }
          ]
        },
        {
          "data": {"values": [{"label": "DIDS 100  μM", "from": "PP1", "to": "PCT"}]},
          "layer": [
            {
              "mark": {"type": "rule", "color": "#333", "strokeWidth": 1.5},
              "encoding": {
                "x": {"field": "from", "type": "nominal", "bandPosition": 0, "scale": {"domain": ["PP1", "PCT"], "paddingInner": 0.333333, "paddingOuter": 0.2269, "align": 1}, "axis": null},
                "x2": {"field": "to", "bandPosition": 1},
                "y": {"datum": 0, "type": "quantitative", "scale": {"domain": [0, 1.8], "nice": false},
                  "axis": {"values": [0, 0.3, 0.6, 0.9, 1.2, 1.5, 1.8], "format": ".1f", "labelOverlap": false, "labelSeparation": 0, "offset": -61, "title": "[Ca²⁺]ᵢ in μM", "titleFontSize": 20, "titlePadding": 13}}
              }
            },
            {
              "mark": {"type": "rect", "filled": false, "stroke": "#000", "strokeWidth": 2, "strokeDash": [230, 224.5, 10]},
              "encoding": {
                "x": {"field": "from", "type": "nominal", "bandPosition": 0.056, "scale": {"domain": ["PP1", "PCT"], "paddingInner": 0.333333, "paddingOuter": 0.2269, "align": 1}, "axis": null},
                "x2": {"field": "to", "bandPosition": 1.056},
                "y": {"datum": 1.747, "type": "quantitative", "scale": {"domain": [0, 1.8], "nice": false},
                  "axis": {"values": [0, 0.3, 0.6, 0.9, 1.2, 1.5, 1.8], "format": ".1f", "labelOverlap": false, "labelSeparation": 0, "offset": -61, "title": "[Ca²⁺]ᵢ in μM", "titleFontSize": 20, "titlePadding": 13}},
                "y2": {"datum": 1.699}
              }
            },
            {
              "mark": {"type": "text", "fontSize": 19, "baseline": "middle", "color": "#111"},
              "encoding": {
                "x": {"field": "from", "type": "nominal", "bandPosition": 1.2165, "scale": {"domain": ["PP1", "PCT"], "paddingInner": 0.333333, "paddingOuter": 0.2269, "align": 1}, "axis": null},
                "y": {"datum": 1.862, "type": "quantitative", "scale": {"domain": [0, 1.8], "nice": false},
                  "axis": {"values": [0, 0.3, 0.6, 0.9, 1.2, 1.5, 1.8], "format": ".1f", "labelOverlap": false, "labelSeparation": 0, "offset": -61, "title": "[Ca²⁺]ᵢ in μM", "titleFontSize": 20, "titlePadding": 13}},
                "text": {"field": "label"}
              }
            }
          ]
        }
      ]
    }
  ]
}
